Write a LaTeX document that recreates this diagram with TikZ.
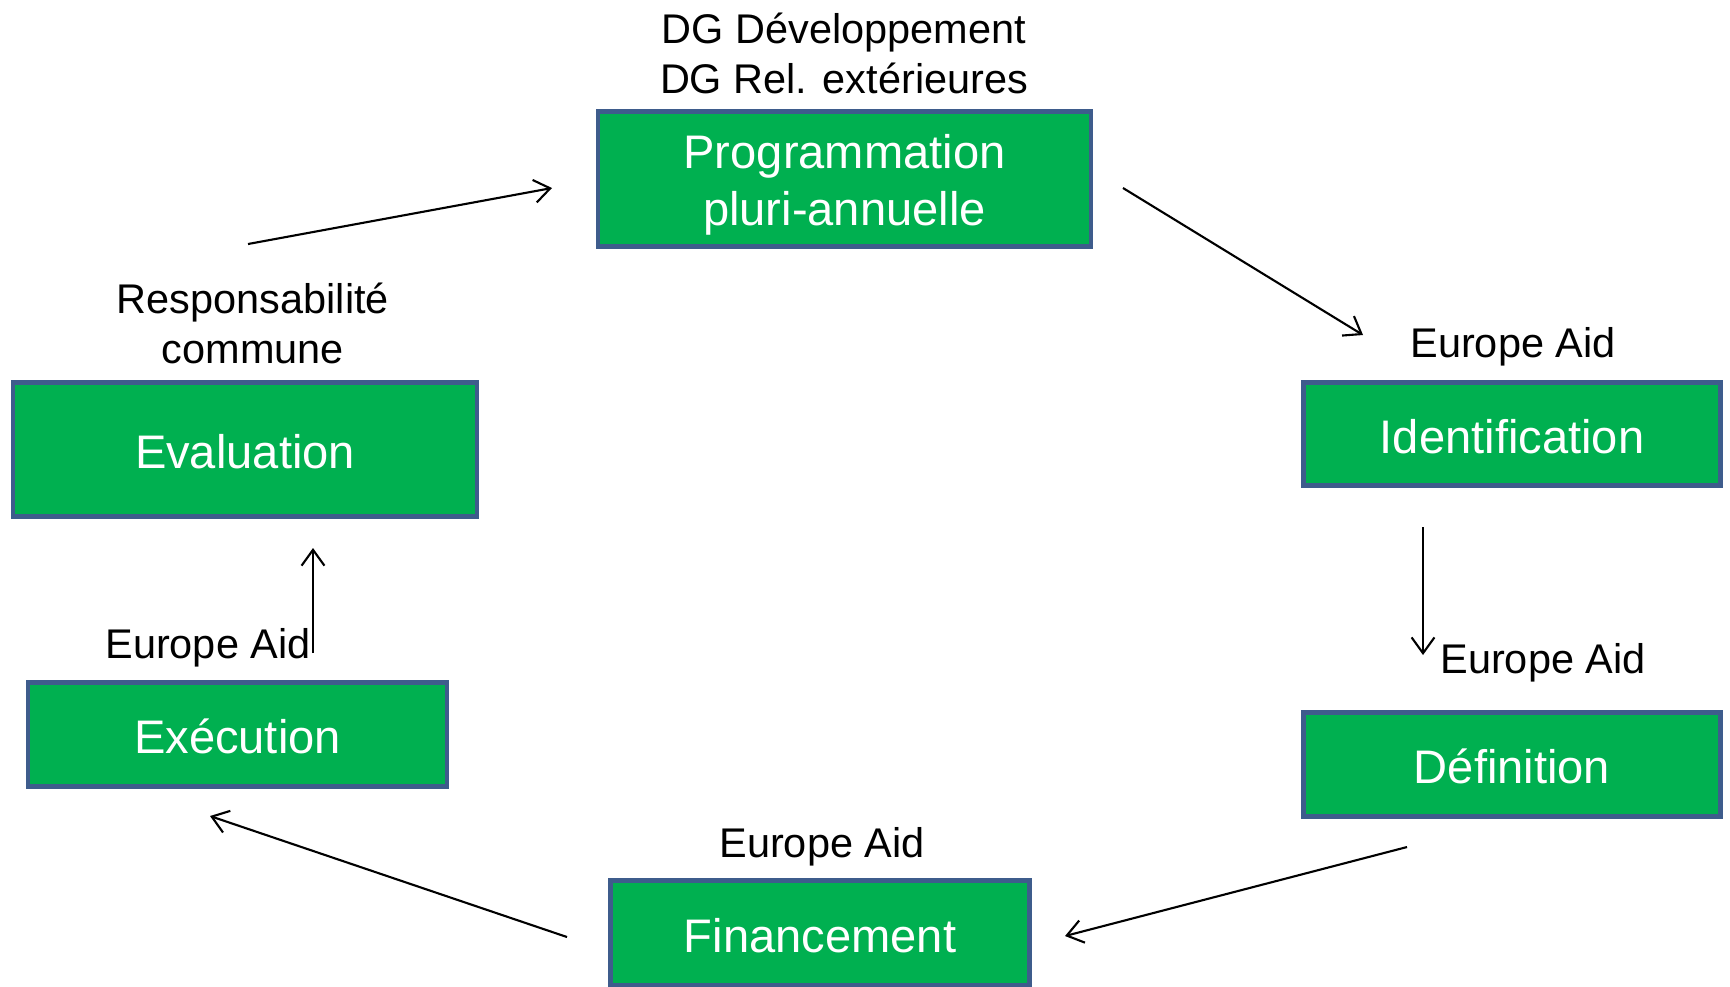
\documentclass[tikz,border=0pt]{standalone}
\usepackage{fontspec}
\setmainfont{Liberation Sans}
\usetikzlibrary{arrows.meta}
\usetikzlibrary{positioning}
\tikzset{phase/.style = {draw=mborder, fill=mgreen, line width=1.4pt, text=white, align=center, inner sep=0, text height=10.9pt, text depth=0pt, font=\fontsize{13.4}{16.2}\selectfont}}
\tikzset{actor/.style = {align=center, inner sep=0, font=\fontsize{11.8}{14.2}\selectfont}}
\tikzset{flow/.style = {-{Straight Barb[length=4.5pt, width=6.5pt]}, line width=0.6pt}}
\definecolor{mgreen}{HTML}{00B050}
\definecolor{mborder}{HTML}{3E5C8C}

\begin{document}
\begin{tikzpicture}
      \useasboundingbox (0, 0) rectangle (17.30, -9.86);

      \node [phase, minimum width = 4.93cm, minimum height = 1.35cm, text height = 28.6pt, text depth = 2pt] (prog) at (8.445, -1.79) {Programmation\\pluri-annuelle};
      \node [phase, minimum width = 4.17cm, minimum height = 1.03cm] (ident) at (15.12, -4.34) {Identification};
      \node [phase, minimum width = 4.17cm, minimum height = 1.04cm] (defin) at (15.12, -7.645) {Définition};
      \node [phase, minimum width = 4.19cm, minimum height = 1.05cm] (finan) at (8.20, -9.33) {Financement};
      \node [phase, minimum width = 4.19cm, minimum height = 1.04cm] (exec) at (2.375, -7.345) {Exécution};
      \node [phase, minimum width = 4.64cm, minimum height = 1.34cm] (eval) at (2.45, -4.495) {Evaluation};

      \node [actor] (dg) at (8.44, -0.53) {DG Développement\\DG Rel. extérieures};
      \node [actor] (resp) at (2.53, -3.23) {Responsabilité\\commune};
      \node [actor] (eaident) at (15.13, -3.47) {Europe Aid};
      \node [actor] (eadefin) at (15.43, -6.625) {Europe Aid};
      \node [actor] (eafinan) at (8.22, -8.47) {Europe Aid};
      \node [actor] (eaexec) at (2.08, -6.475) {Europe Aid};

      \coordinate (e2p a) at (2.48, -2.44);
      \coordinate (e2p b) at (5.52, -1.88);
      \coordinate (p2i a) at (11.23, -1.88);
      \coordinate (p2i b) at (13.63, -3.35);
      \coordinate (i2d a) at (14.23, -5.27);
      \coordinate (i2d b) at (14.23, -6.55);
      \coordinate (d2f a) at (14.07, -8.47);
      \coordinate (d2f b) at (10.65, -9.36);
      \coordinate (f2x a) at (5.67, -9.37);
      \coordinate (f2x b) at (2.10, -8.16);
      \coordinate (x2e a) at (3.13, -6.53);
      \coordinate (x2e b) at (3.13, -5.48);

      \foreach \a in {e2p, p2i, i2d, d2f, f2x, x2e} {
        \draw [flow] (\a\space a) -- (\a\space b);
      }
    \end{tikzpicture}
\end{document}
